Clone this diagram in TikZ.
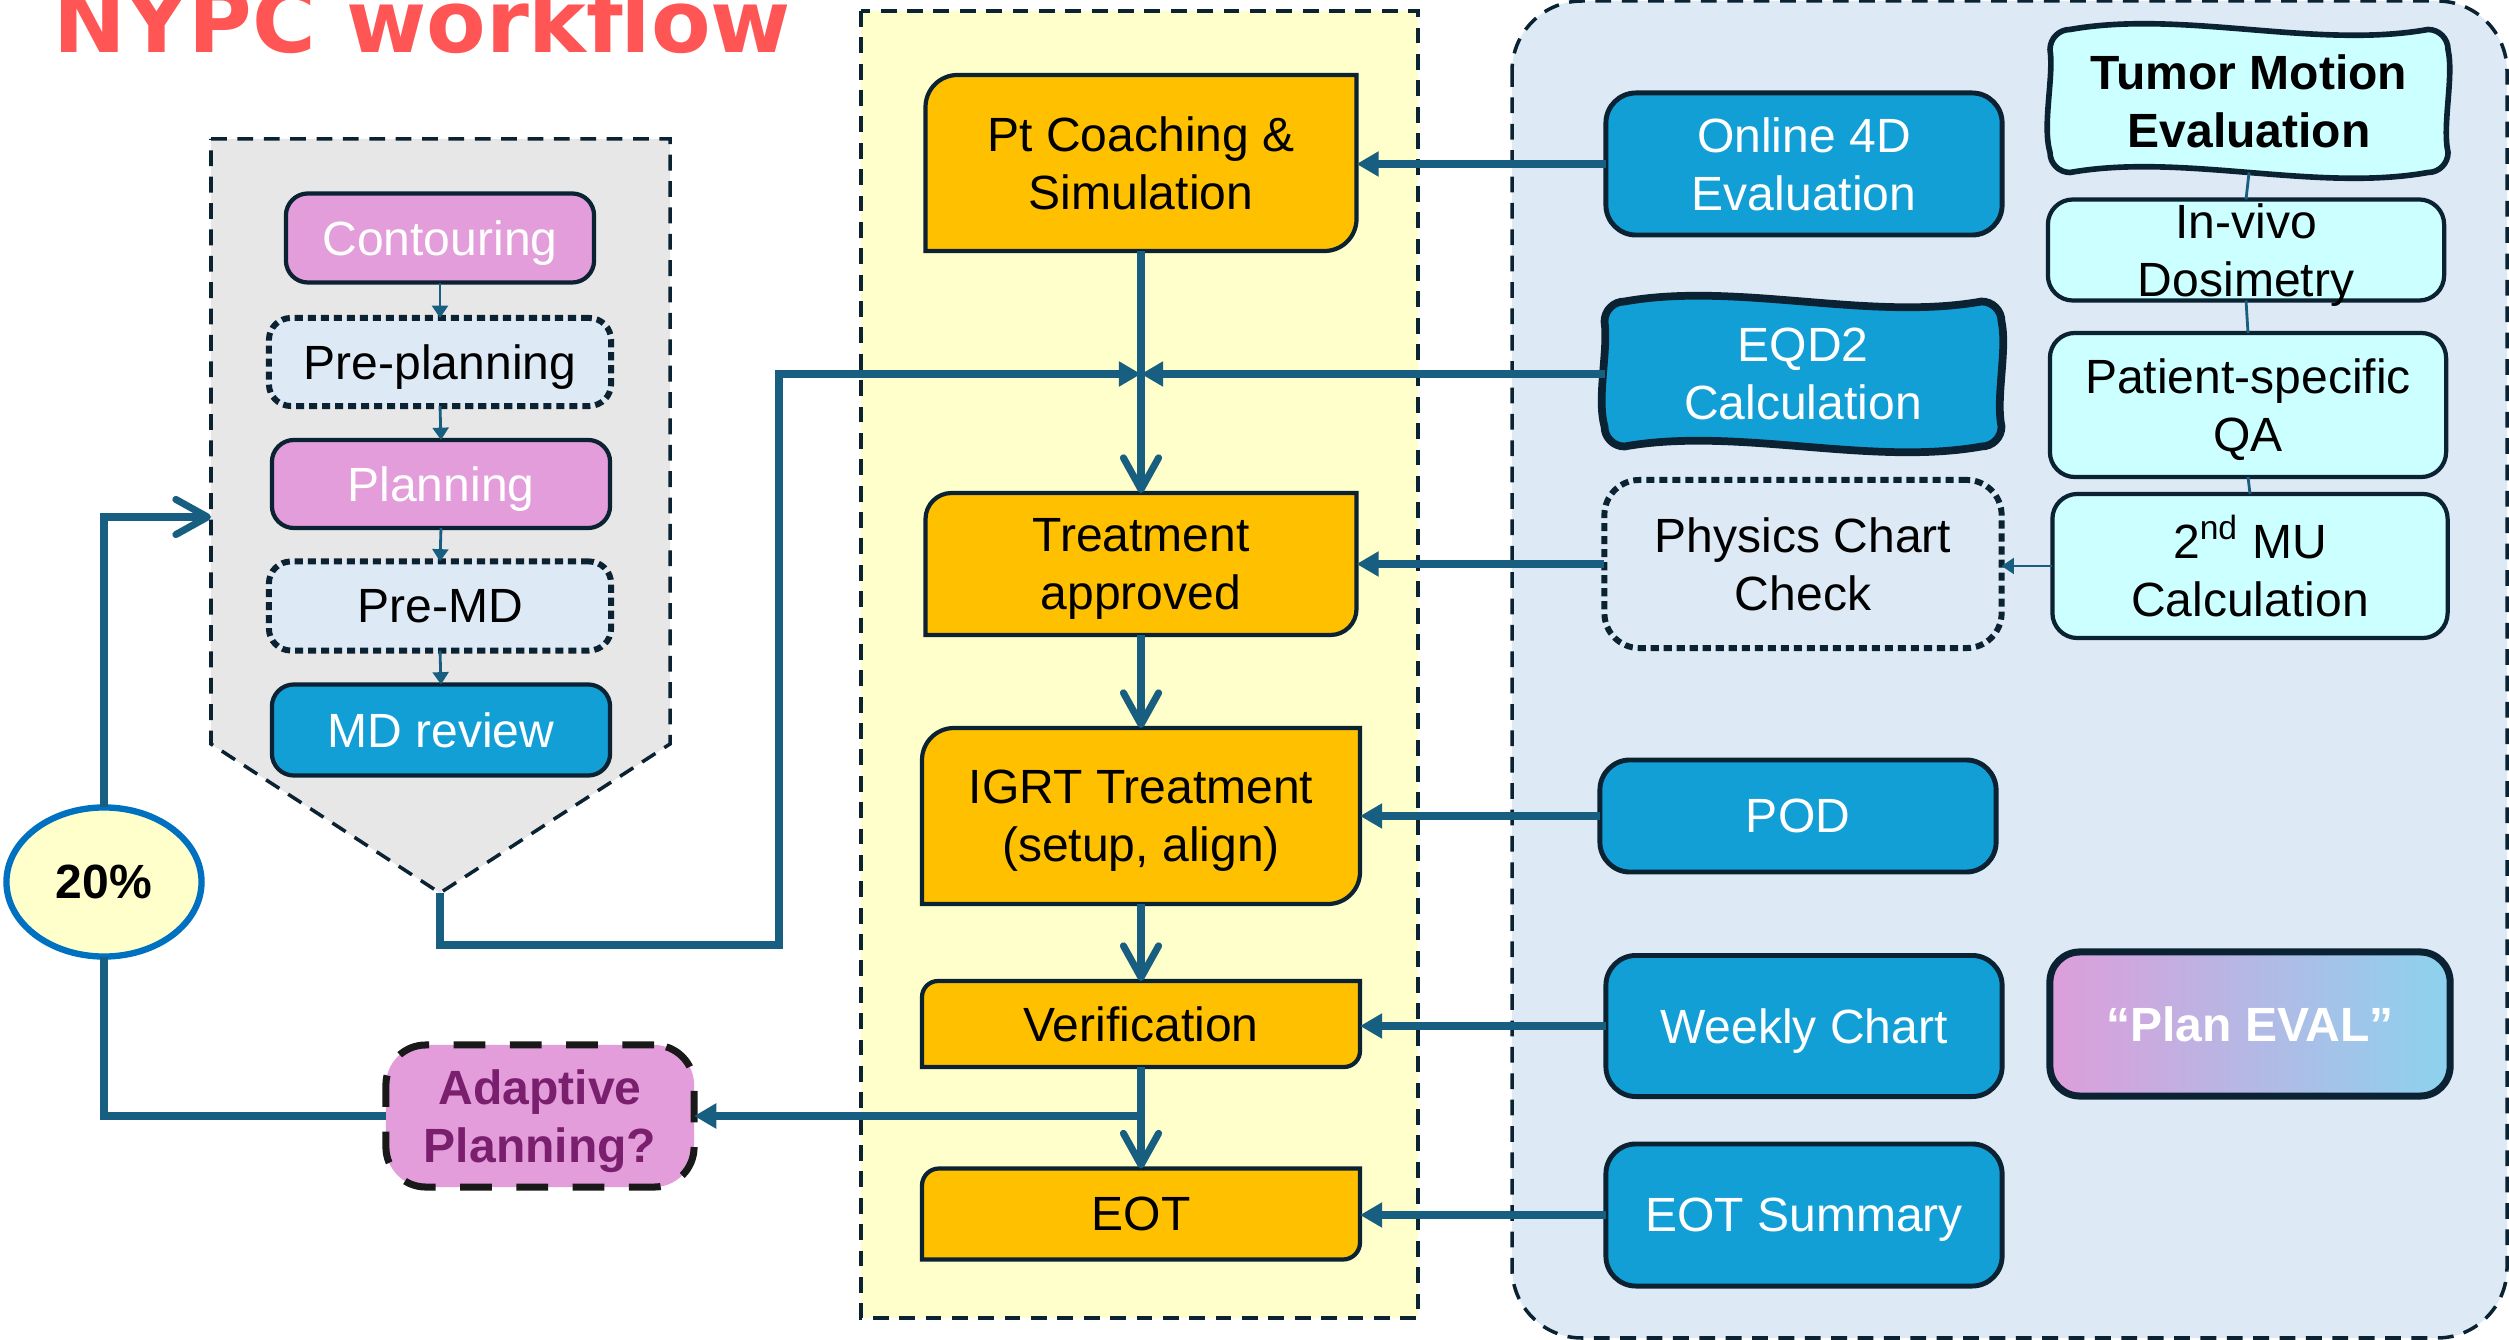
\documentclass[tikz,border=0pt]{standalone}
\usepackage{fontspec}
\setmainfont{Liberation Sans}
\newfontfamily\titlefont{DejaVu Sans}
\usetikzlibrary{arrows.meta,shapes.geometric}

\definecolor{edge}{HTML}{0B2233}
\definecolor{linkc}{HTML}{185E80}
\definecolor{ptorange}{HTML}{FFC000}
\definecolor{mdblue}{HTML}{129FD6}
\definecolor{planpink}{HTML}{E39DDA}
\definecolor{paleblue}{HTML}{DDEAF6}
\definecolor{qacyan}{HTML}{CCFFFF}
\definecolor{lanecream}{HTML}{FFFFCC}
\definecolor{lanegray}{HTML}{E7E7E7}
\definecolor{titlered}{HTML}{FF5555}
\definecolor{adpurple}{HTML}{7A1F6E}
\definecolor{ringblue}{HTML}{0070C0}
\definecolor{evalpink}{HTML}{DD9EDB}
\definecolor{evalmid}{HTML}{A6B4E2}
\definecolor{evalblue}{HTML}{8CD2EE}

% orange step box: name, x, y, width, height, corner, text
\newcommand{\stepnode}[7]{%
  \filldraw[stepshape] ({#2-#4/2},{#3+#5/2}) -- ({#2-#4/2},{#3-#5/2+#6})
    arc[start angle=180,end angle=270,radius=#6] -- ({#2+#4/2},{#3-#5/2})
    -- ({#2+#4/2},{#3+#5/2-#6}) arc[start angle=0,end angle=90,radius=#6] -- cycle;
  \node[minimum width=#4*0.01cm,minimum height=#5*0.01cm] (#1) at (#2,#3) {#7};}

% wavy box: name, x, y, width, height, shape options, node options, text
\newcommand{\wavynode}[8]{%
  \filldraw[#6] ({#2-#4/2+20},{#3-#5/2})
    .. controls ({#2-#4/6},{#3-#5/2-20}) and ({#2+#4/6},{#3-#5/2+20}) .. ({#2+#4/2-20},{#3-#5/2})
    arc[start angle=270,end angle=360,radius=20]
    .. controls ({#2+#4/2+6},{#3-#5/6}) and ({#2+#4/2-6},{#3+#5/6}) .. ({#2+#4/2},{#3+#5/2-20})
    arc[start angle=0,end angle=90,radius=20]
    .. controls ({#2+#4/6},{#3+#5/2+20}) and ({#2-#4/6},{#3+#5/2-20}) .. ({#2-#4/2+20},{#3+#5/2})
    arc[start angle=90,end angle=180,radius=20]
    .. controls ({#2-#4/2-8},{#3+#5/6}) and ({#2-#4/2+4},{#3-#5/6}) .. ({#2-#4/2},{#3-#5/2+20})
    arc[start angle=180,end angle=270,radius=20] -- cycle;
  \node[minimum width=#4*0.01cm,minimum height=#5*0.01cm,#7] (#1) at (#2,#3) {#8};}

\begin{document}
\begin{tikzpicture}[x=0.01cm,y=-0.01cm]
	\tikzstyle{every node}=[font=\fontsize{13.66pt}{16.5pt}\selectfont,align=center,inner sep=0pt,outer sep=0pt]
	\tikzstyle{nodepth}=[text depth=0pt]
	\tikzstyle{box}=[draw=edge,line width=1.2pt,rounded corners=0.22cm]
	\tikzstyle{pinkbox}=[box,fill=planpink,text=white,minimum width=3.38cm,minimum height=0.88cm]
	\tikzstyle{dotbox}=[box,fill=paleblue,line width=1.7pt,dash pattern=on 2.3pt off 1.4pt,minimum width=3.42cm,minimum height=0.88cm]
	\tikzstyle{bluebox}=[box,fill=mdblue,text=white,line width=1.4pt,rounded corners=0.3cm,minimum width=3.96cm,minimum height=1.42cm]
	\tikzstyle{qabox}=[box,fill=qacyan,rounded corners=0.25cm,minimum width=3.96cm,minimum height=1.44cm]
	\tikzstyle{stepshape}=[fill=ptorange,draw=edge,line width=1.2pt]
	\tikzstyle{lane}=[draw=edge,line width=1pt,dash pattern=on 4.5pt off 3pt]
	\tikzstyle{flow}=[draw=linkc,line width=2pt,-{Triangle[length=6.3pt,width=6.8pt]}]
	\tikzstyle{down}=[draw=linkc,line width=2pt,-{Straight Barb[length=9pt,width=10pt,round]}]
	\tikzstyle{feed}=[draw=linkc,line width=2pt]
	\tikzstyle{tinyflow}=[draw=linkc,line width=0.8pt,-{Triangle[length=3.5pt,width=4.5pt]}]
	\tikzstyle{qalink}=[draw=linkc,line width=0.8pt]

	\useasboundingbox (0,0) rectangle (2509,1340);

	% lanes
	\path[lane,fill=lanegray] (211,139) -- (670,139) -- (670,744) -- (440,893) -- (211,744) -- cycle;
	\path[lane,fill=lanecream] (861,11) rectangle (1418,1318);
	\path[lane,fill=paleblue,rounded corners=0.7cm] (1512,1) rectangle (2507,1338);

	\node[anchor=base west,text=titlered,font=\titlefont\bfseries\fontsize{24.7pt}{29pt}\selectfont] (ttl) at (53,53) {NYPC workflow};

	% planning lane
	\node[pinkbox,nodepth,minimum width=3.08cm,minimum height=0.89cm] (con) at (440,238) {Contouring};
	\node[dotbox,nodepth] (prp) at (440,362) {Pre-planning};
	\node[pinkbox,nodepth] (pln) at (441,484) {Planning};
	\node[dotbox,minimum height=0.89cm] (pmd) at (440,606) {Pre-MD};
	\node[box,nodepth,fill=mdblue,text=white,minimum width=3.38cm,minimum height=0.91cm] (mdr) at (441,730) {MD review};
	\coordinate (mdtip) at (440,893);
	\coordinate (gpin) at (211,517);

	% treatment lane
	\stepnode{pt}{1141}{163}{431}{176}{32}{Pt Coaching \&\\Simulation}
	\stepnode{ta}{1141}{564}{431}{142}{26}{Treatment\\\smash{approved}}
	\stepnode{igrt}{1141}{816}{438}{176}{32}{IGRT Treatment\\\smash{(setup, align)}}
	\stepnode{ver}{1141}{1024}{438}{86}{16}{Verification}
	\stepnode{eot}{1141}{1214}{438}{91}{17}{EOT}

	% physics lane
	\node[bluebox] (o4d) at (1804,164) {Online 4D\\Evaluation};
	\wavynode{eqd}{1803}{374}{397}{145}{fill=mdblue,draw=edge,line width=2.2pt}{text=white}{EQD2\\Calculation}
	\node[dotbox,rounded corners=0.35cm,minimum width=3.97cm,minimum height=1.68cm] (pcc) at (1803,564) {Physics Chart\\Check};
	\node[bluebox,minimum height=1.12cm] (pod) at (1798,816) {POD};
	\node[bluebox,nodepth,minimum height=1.41cm] (wkc) at (1804,1026) {Weekly Chart};
	\node[bluebox,nodepth] (eos) at (1804,1215) {EOT Summary};

	\wavynode{tme}{2249}{101}{398}{143}{fill=qacyan,draw=edge,line width=1.6pt}{font=\fontsize{13.66pt}{16.5pt}\selectfont\bfseries}{Tumor Motion\\Evaluation}
	\node[qabox,minimum height=1.01cm] (ivd) at (2246,250) {In-vivo\\\smash{Dosimetry}};
	\node[qabox] (psq) at (2248,405) {Patient-specific\\\smash{QA}};
	\node[qabox,minimum width=3.95cm] (mu2) at (2250,566) {2\textsuperscript{nd} MU\\Calculation};
	\node[box,line width=2pt,rounded corners=0.3cm,left color=evalpink,middle color=evalmid,right color=evalblue,text=white,font=\fontsize{13.66pt}{16.5pt}\selectfont\bfseries,minimum width=4cm,minimum height=1.44cm] (pev) at (2250,1024) {“Plan EVAL”};

	% adaptive loop
	\node[box,fill=planpink,text=adpurple,draw=black!90,line width=2pt,dash pattern=on 9pt off 7pt,rounded corners=0.4cm,font=\fontsize{13.66pt}{16.5pt}\selectfont\bfseries,minimum width=3.08cm,minimum height=1.42cm] (adp) at (540,1116) {Adaptive\\\smash{Planning?}};
	\node[ellipse,draw=ringblue,line width=1.8pt,fill=lanecream,font=\fontsize{13.66pt}{16.5pt}\selectfont\bfseries,minimum width=1.95cm,minimum height=1.49cm] (pct) at (104,882) {20\%};

	\draw[tinyflow] (con.south) -- (prp.north);
	\draw[tinyflow] (prp.south) -- (pln.north);
	\draw[tinyflow] (pln.south) -- (pmd.north);
	\draw[tinyflow] (pmd.south) -- (mdr.north);

	\coordinate (jn) at (eqd.west -| pt.south);
	\draw[flow] (o4d.west) -- (o4d.west -| pt.east);
	\draw[flow] (eqd.west) -- (jn);
	\draw[flow] (mdtip) -- ++(0,52) -- ++(339,0) |- (jn);
	\draw[down] (pt.south) -- (ta.north);
	\draw[flow] (pcc.west) -- (pcc.west -| ta.east);
	\draw[down] (ta.south) -- (igrt.north);
	\draw[flow] (pod.west) -- (pod.west -| igrt.east);
	\draw[down] (igrt.south) -- (ver.north);
	\draw[flow] (wkc.west) -- (wkc.west -| ver.east);
	\draw[down] (ver.south) -- (eot.north);
	\draw[flow] (eos.west) -- (eos.west -| eot.east);
	\draw[flow] (ver.south |- adp.east) -- (adp.east);
	\draw[feed] (adp.west) -| (pct.south);
	\draw[down] (pct.north) |- (gpin);

	\draw[qalink] (tme.south) -- (ivd.north);
	\draw[qalink] (ivd.south) -- (psq.north);
	\draw[qalink] (psq.south) -- (mu2.north);
	\draw[tinyflow] (mu2.west) -- (mu2.west -| pcc.east);
\end{tikzpicture}
\end{document}
